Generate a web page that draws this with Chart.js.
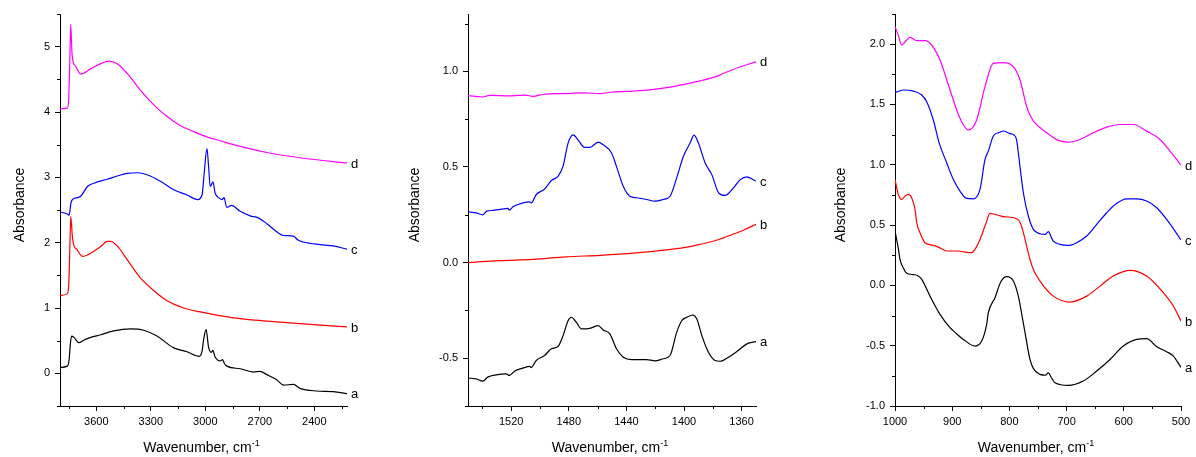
<!DOCTYPE html>
<html>
<head>
<meta charset="utf-8">
<script src="https://cdn.jsdelivr.net/npm/chart.js@4/dist/chart.umd.min.js"></script>
<style>
  body { margin: 0; background: #fff; }
  canvas { position: absolute; top: 0; }
</style>
</head>
<body>
<canvas id="p1" width="400" height="457" style="left:0"></canvas>
<canvas id="p2" width="400" height="457" style="left:400px"></canvas>
<canvas id="p3" width="396" height="457" style="left:800px"></canvas>
<script>
const FONT = '"Liberation Sans", Arial, sans-serif';
const letters = ["a", "b", "c", "d"];
const lineColors = ["#000000", "#ff0000", "#0000ff", "#ff00ff"];

// panel 1: 3800 - 2220 cm-1
const p1XTicks = [3600, 3300, 3000, 2700, 2400];
const p1XMinor = [3750, 3450, 3150, 2850, 2550, 2250];
const p1YTicks = [0, 1, 2, 3, 4, 5];
const p1YMinor = [-0.5, 0.5, 1.5, 2.5, 3.5, 4.5, 5.5];
const p1aWn = [3800,3760,3750,3743,3736,3723,3696,3668,3631,3576,3504,3412,3339,3266,3174,3101,3033,3018,3009,2996,2982,2968,2959,2946,2918,2905,2895,2882,2808,2735,2699,2661,2607,2570,2515,2479,2387,2296,2220];
const p1aAbs = [0.09,0.11,0.20,0.45,0.57,0.55,0.47,0.51,0.55,0.59,0.65,0.68,0.66,0.57,0.39,0.33,0.26,0.34,0.52,0.67,0.40,0.32,0.35,0.25,0.19,0.21,0.15,0.11,0.07,0.02,0.03,-0.02,-0.10,-0.18,-0.17,-0.23,-0.27,-0.28,-0.31];
const p1bWn = [3800,3760,3752,3745,3741,3732,3723,3708,3677,3613,3576,3540,3522,3485,3430,3357,3302,3210,3119,3028,2845,2661,2479,2220];
const p1bAbs = [1.19,1.22,1.35,2.00,2.40,2.10,1.95,1.90,1.79,1.87,1.94,2.02,2.02,1.95,1.74,1.46,1.31,1.11,1.00,0.94,0.85,0.80,0.76,0.71];
const p1cWn = [3800,3760,3750,3740,3732,3704,3686,3649,3613,3540,3485,3430,3375,3320,3247,3174,3101,3042,3018,3006,2991,2982,2973,2958,2946,2927,2908,2897,2882,2857,2808,2753,2708,2661,2599,2570,2515,2490,2461,2369,2296,2220];
const p1cAbs = [2.47,2.44,2.42,2.60,2.66,2.69,2.71,2.86,2.91,2.97,3.02,3.06,3.07,3.04,2.94,2.81,2.73,2.66,2.73,3.07,3.44,3.17,2.86,2.93,2.76,2.69,2.66,2.69,2.54,2.57,2.48,2.41,2.38,2.29,2.15,2.11,2.10,2.04,2.01,1.97,1.95,1.90];
const p1dWn = [3800,3760,3752,3745,3741,3734,3726,3714,3686,3631,3576,3531,3485,3430,3357,3284,3210,3137,3064,2991,2918,2845,2661,2479,2296,2220];
const p1dAbs = [4.05,4.06,4.20,4.90,5.34,4.90,4.75,4.70,4.58,4.66,4.74,4.78,4.74,4.59,4.33,4.11,3.93,3.79,3.70,3.62,3.56,3.50,3.38,3.30,3.24,3.22];

// panel 2: 1550 - 1350 cm-1
const p2XTicks = [1520, 1480, 1440, 1400, 1360];
const p2XMinor = [1540, 1500, 1460, 1420, 1380];
const p2YTicks = [-0.5, 0, 0.5, 1.0];
const p2YMinor = [-0.75, -0.25, 0.25, 0.75, 1.25];
const p2aWn = [1550,1544.4,1539.7,1536.3,1530.4,1523.5,1521.2,1517.7,1511.9,1507.2,1506.1,1502.6,1496.8,1492.1,1487.5,1484,1480.5,1478.2,1474.7,1471.2,1465.4,1459.6,1456.1,1451.5,1446.9,1442.2,1436.4,1426,1420.2,1414.4,1409.7,1405.1,1401.6,1398.1,1393.9,1391.1,1387.6,1383,1378.4,1374.9,1369.1,1363.3,1356.3,1350];
const p2aAbs = [-0.604,-0.608,-0.620,-0.599,-0.587,-0.582,-0.590,-0.568,-0.552,-0.543,-0.549,-0.512,-0.486,-0.451,-0.439,-0.382,-0.304,-0.286,-0.313,-0.347,-0.344,-0.330,-0.352,-0.373,-0.451,-0.495,-0.507,-0.507,-0.514,-0.503,-0.486,-0.365,-0.304,-0.286,-0.274,-0.295,-0.382,-0.469,-0.512,-0.516,-0.495,-0.465,-0.425,-0.413];
const p2bWn = [1550,1528,1505,1482,1458,1435,1412,1400,1389,1377,1366,1358,1350];
const p2bAbs = [0.000,0.010,0.017,0.030,0.038,0.049,0.066,0.078,0.095,0.118,0.148,0.172,0.200];
const p2cWn = [1550,1544.4,1539.7,1537,1532.8,1528.1,1522.3,1521.2,1518.8,1511.9,1507.2,1506.1,1502.6,1496.8,1492.1,1487.5,1484,1480.5,1477,1473.6,1468.9,1465.4,1459.6,1456.1,1450.3,1446.9,1442.2,1437.6,1432.9,1426,1420.2,1414.4,1409.7,1405.1,1400.4,1395.8,1393,1390,1385.3,1380.7,1376,1371.4,1365.6,1360.9,1356.3,1350];
const p2cAbs = [0.266,0.260,0.250,0.269,0.273,0.278,0.283,0.274,0.292,0.312,0.318,0.312,0.356,0.385,0.429,0.451,0.503,0.625,0.668,0.642,0.602,0.602,0.630,0.616,0.573,0.503,0.399,0.347,0.339,0.330,0.321,0.330,0.347,0.443,0.556,0.625,0.667,0.625,0.521,0.460,0.365,0.351,0.391,0.434,0.448,0.425];
const p2dWn = [1550,1540,1535,1520,1510,1505,1498,1482,1470,1458,1450,1435,1424,1412,1400,1389,1377,1366,1350];
const p2dAbs = [0.873,0.866,0.874,0.872,0.876,0.869,0.879,0.884,0.887,0.884,0.892,0.897,0.903,0.915,0.932,0.950,0.975,1.010,1.050];

// panel 3: 1000 - 500 cm-1
const p3XTicks = [1000, 900, 800, 700, 600, 500];
const p3XMinor = [950, 850, 750, 650, 550];
const p3YTicks = [-1.0, -0.5, 0, 0.5, 1.0, 1.5, 2.0];
const p3YMinor = [-0.75, -0.25, 0.25, 0.75, 1.25, 1.75, 2.25];
const p3aWn = [1000,994,991.3,985,979.6,968,960,953.3,938.8,921.3,903.8,895,880.5,860,848.4,840,836.8,825.2,815,804.8,793.1,784.4,778,772.7,764,758,746.5,737,732,726,720.3,697,670.8,647.4,624.1,600.9,577.5,560,542.5,525,513.4,500];
const p3aAbs = [0.45,0.30,0.216,0.14,0.10,0.089,0.08,0.05,-0.089,-0.24,-0.351,-0.39,-0.448,-0.503,-0.462,-0.33,-0.226,-0.102,0.03,0.072,0.036,-0.089,-0.25,-0.392,-0.614,-0.69,-0.738,-0.745,-0.725,-0.77,-0.807,-0.829,-0.793,-0.71,-0.614,-0.503,-0.448,-0.442,-0.508,-0.55,-0.586,-0.68];
const p3bWn = [1000,994.2,988.3,982.5,976.7,970.9,965,962,956.3,947.5,933,921,909.7,889.3,880,866,860,851.4,842,833.9,826,810.6,787.3,781,775.6,764,758,746.5,723.2,694,664.9,641.6,618.4,589.2,560,531,513.4,500];
const p3bAbs = [0.878,0.754,0.713,0.740,0.754,0.727,0.630,0.52,0.436,0.354,0.332,0.31,0.285,0.285,0.278,0.271,0.30,0.381,0.50,0.597,0.59,0.570,0.553,0.52,0.437,0.216,0.13,0.036,-0.089,-0.138,-0.089,-0.006,0.077,0.124,0.077,-0.06,-0.171,-0.296];
const p3cWn = [1000,985.5,968,953.3,944.6,933,922.5,909.7,898,886.4,874.7,863,851.4,842.6,836.8,828.1,816.4,810.6,800,793.1,787.3,784.4,775.6,766.9,758.1,746.5,737.7,731.9,726,723.2,711.5,697.1,682.4,664.9,647.4,629.9,612.4,595,577.5,560,542.5,525,510.5,500];
const p3cAbs = [1.598,1.62,1.611,1.578,1.523,1.371,1.177,1.017,0.878,0.782,0.721,0.718,0.796,1.044,1.113,1.238,1.27,1.28,1.26,1.25,1.205,1.10,0.768,0.575,0.464,0.428,0.423,0.445,0.39,0.367,0.34,0.331,0.354,0.409,0.506,0.602,0.680,0.718,0.718,0.699,0.644,0.547,0.450,0.376];
const p3dWn = [1000,994,988.3,982,973.8,962,947.5,935.9,921.3,903.8,886.4,871.8,857.2,842.7,828.1,810.6,793.1,781.5,769.8,764,758,734.8,714.4,697.1,676.5,653.2,629.9,606.6,583.3,560,536.7,519.2,500];
const p3dAbs = [2.145,2.07,1.993,2.02,2.056,2.029,2.029,1.993,1.868,1.62,1.385,1.288,1.371,1.648,1.841,1.847,1.813,1.703,1.482,1.412,1.362,1.265,1.202,1.188,1.21,1.265,1.312,1.334,1.334,1.279,1.21,1.113,0.997];

Chart.defaults.font.family = FONT;
Chart.defaults.color = "#000";

const pts = (wn, abs) => wn.map((x, i) => ({ x, y: abs[i] }));

// frame of each panel in canvas pixels
const panels = [
  { id: "p1", xMin: 2220, xMax: 3800, yMin: -0.5, yMax: 5.5, xTicks: p1XTicks, xMinor: p1XMinor, yTicks: p1YTicks, yMinor: p1YMinor,
    fmtY: (v) => String(v), left: 60, right: 53, yTitleGap: 36,
    series: [pts(p1aWn, p1aAbs), pts(p1bWn, p1bAbs), pts(p1cWn, p1cAbs), pts(p1dWn, p1dAbs)] },
  { id: "p2", xMin: 1350, xMax: 1550, yMin: -0.75, yMax: 1.3, xTicks: p2XTicks, xMinor: p2XMinor, yTicks: p2YTicks, yMinor: p2YMinor,
    fmtY: (v) => v.toFixed(1), left: 68, right: 44, yTitleGap: 49,
    series: [pts(p2aWn, p2aAbs), pts(p2bWn, p2bAbs), pts(p2cWn, p2cAbs), pts(p2dWn, p2dAbs)] },
  { id: "p3", xMin: 500, xMax: 1000, yMin: -1.0, yMax: 2.25, xTicks: p3XTicks, xMinor: p3XMinor, yTicks: p3YTicks, yMinor: p3YMinor,
    fmtY: (v) => v.toFixed(1), left: 95, right: 15, yTitleGap: 50,
    series: [pts(p3aWn, p3aAbs), pts(p3bWn, p3bAbs), pts(p3cWn, p3cAbs), pts(p3dWn, p3dAbs)] },
];

const TOP = 14, BOTTOM = 406, H = 457;

function decor(p) {
  return {
    id: "decor",
    afterDraw(chart) {
      const { ctx, chartArea: a, scales: { x, y } } = chart;
      ctx.save();
      // minor ticks
      ctx.strokeStyle = "#000";
      ctx.lineWidth = 1;
      ctx.beginPath();
      p.xMinor.forEach((v) => {
        const px = Math.round(x.getPixelForValue(v)) + 0.5;
        ctx.moveTo(px, a.bottom); ctx.lineTo(px, a.bottom + 3);
      });
      p.yMinor.forEach((v) => {
        const py = Math.round(y.getPixelForValue(v)) + 0.5;
        ctx.moveTo(a.left - 3, py); ctx.lineTo(a.left, py);
      });
      ctx.stroke();
      // curve letters at the right end
      ctx.fillStyle = "#000";
      ctx.font = "13px " + FONT;
      ctx.textAlign = "left";
      ctx.textBaseline = "middle";
      chart.data.datasets.forEach((ds) => {
        const last = ds.data[ds.data.length - 1];
        ctx.fillText(ds.label, a.right + 4, y.getPixelForValue(last.y) + 1);
      });
      // axis titles
      ctx.font = "14px " + FONT;
      ctx.textBaseline = "alphabetic";
      ctx.save();
      ctx.translate(a.left - p.yTitleGap, (a.top + a.bottom) / 2 - 5);
      ctx.rotate(-Math.PI / 2);
      ctx.textAlign = "center";
      ctx.fillText("Absorbance", 0, 0);
      ctx.restore();
      const main = "Wavenumber, cm", sup = "-1";
      const w1 = ctx.measureText(main).width;
      ctx.font = "9px " + FONT;
      const w2 = ctx.measureText(sup).width;
      const x0 = (a.left + a.right) / 2 - 2 - (w1 + w2) / 2;
      ctx.textAlign = "left";
      ctx.fillText(sup, x0 + w1, 446);
      ctx.font = "14px " + FONT;
      ctx.fillText(main, x0, 452);
      ctx.restore();
    },
  };
}

function makePanel(p) {
  const canvas = document.getElementById(p.id);
  const datasets = p.series.map((data, i) => ({
    label: letters[i], data, borderColor: lineColors[i], borderWidth: 1.2,
    pointRadius: 0, fill: false, cubicInterpolationMode: "monotone",
  }));
  new Chart(canvas, {
    type: "line",
    data: { datasets },
    options: {
      responsive: false, animation: false, events: [],
      layout: { padding: { top: TOP, right: p.right, left: 0, bottom: 0 } },
      plugins: { legend: { display: false }, tooltip: { enabled: false } },
      scales: {
        x: {
          type: "linear", reverse: true, min: p.xMin, max: p.xMax,
          afterBuildTicks: (s) => { s.ticks = p.xTicks.map((value) => ({ value })); },
          afterFit: (s) => { s.height = H - BOTTOM; },
          ticks: { callback: (v) => String(v), font: { size: 11 }, color: "#000", padding: 4, maxRotation: 0, autoSkip: false },
          grid: { drawOnChartArea: false, drawTicks: true, tickLength: 5, color: "#000" },
          border: { display: true, color: "#000", width: 1 },
        },
        y: {
          type: "linear", min: p.yMin, max: p.yMax,
          afterBuildTicks: (s) => { s.ticks = p.yTicks.map((value) => ({ value })); },
          afterFit: (s) => { s.width = p.left; },
          ticks: { callback: (v) => p.fmtY(v), font: { size: 11 }, color: "#000", padding: 5, autoSkip: false },
          grid: { drawOnChartArea: false, drawTicks: true, tickLength: 5, color: "#000" },
          border: { display: true, color: "#000", width: 1 },
        },
      },
    },
    plugins: [decor(p)],
  });
}

panels.forEach(makePanel);
</script>
</body>
</html>
